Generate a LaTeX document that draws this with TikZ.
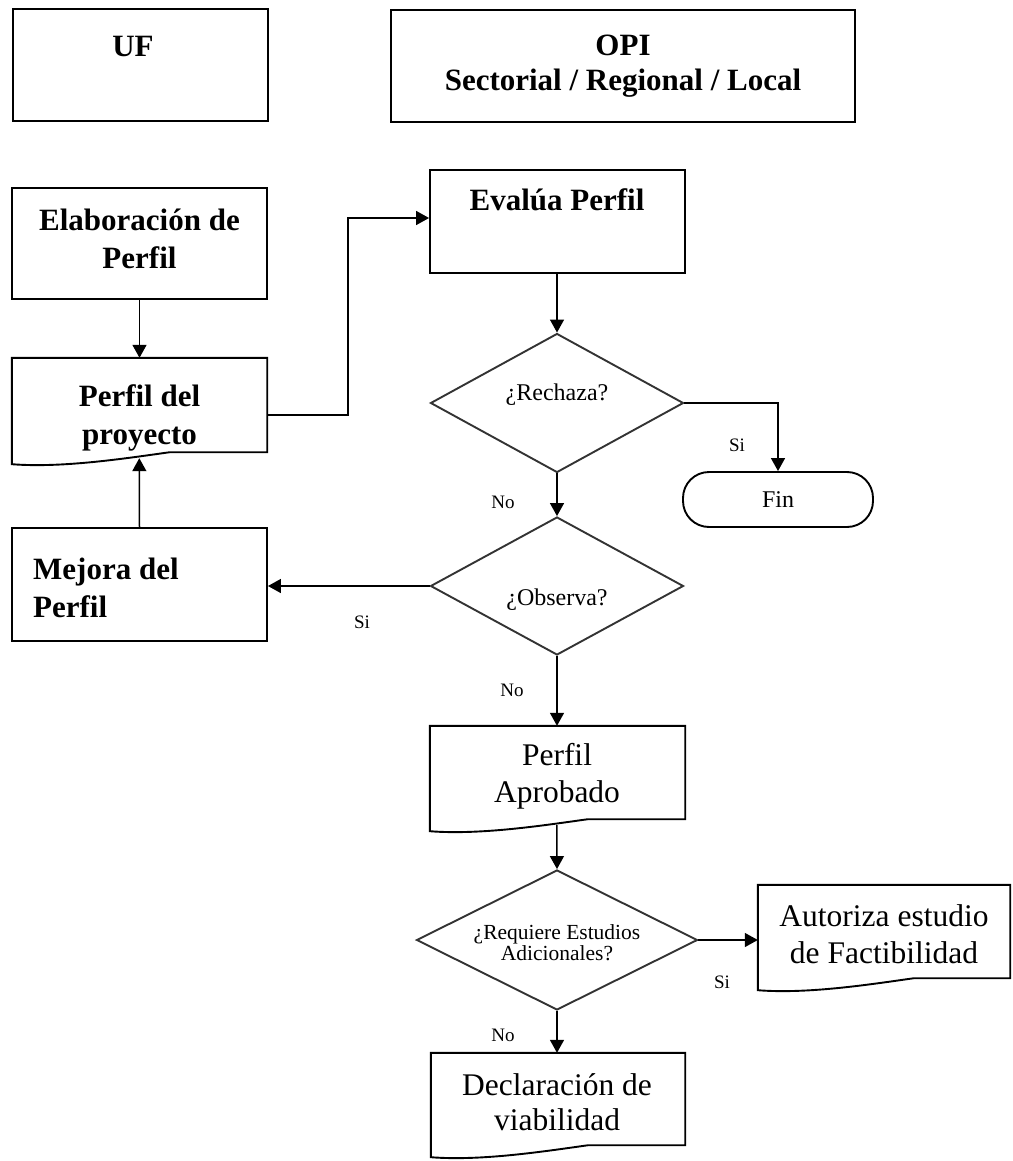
\documentclass[tikz,border=0pt]{standalone}
\usepackage{fontspec}
\setmainfont{Liberation Serif}
\usetikzlibrary{arrows.meta,shapes.geometric,calc}

% outline of a flowchart "document" shape: #1 = helper node, #2 = its width
\newcommand\drawdoc[2]{%
  \draw[boxline] (#1.south west) -- (#1.north west) -- (#1.north east)
    -- ($(#1.south east)+(0,-12)$) -- ($(#1.south west)+(0.62*#2,-12)$)
    .. controls ($(#1.south west)+(0.45*#2,-6)$) and ($(#1.south west)+(0.2*#2,4)$)
    .. (#1.south west) -- cycle;}

\begin{document}
\begin{tikzpicture}[x=1pt,y=-1pt,
  boxline/.style={line width=1.9pt,line join=miter},
  box/.style={draw,boxline,inner sep=0pt},
  docarea/.style={inner sep=0pt},
  decision/.style={draw=black!80,diamond,line width=1.9pt,inner sep=0pt},
  conn/.style={line width=1.5pt,-{Triangle[length=13pt,width=14pt]}},
  btxt/.style={font=\fontsize{31}{38}\selectfont\bfseries,align=center,inner sep=0pt},
  rtxt/.style={font=\fontsize{31.5}{37}\selectfont,align=center,inner sep=0pt},
  qtxt/.style={font=\fontsize{24}{26}\selectfont,align=center,inner sep=0pt},
  stxt/.style={font=\fontsize{21.5}{21}\selectfont,align=center,inner sep=0pt},
  lbl/.style={font=\fontsize{19}{21}\selectfont,inner sep=0pt},
  htxt/.style={font=\fontsize{31}{33}\selectfont\bfseries,inner sep=0pt}
]
\useasboundingbox (0,0) rectangle (1012,1161);

% column headers
\node[box,minimum width=255pt,minimum height=112pt] (uf) at (140.5,65) {};
\node[htxt] (uftxt) at (133,46) {UF};
\node[box,minimum width=464pt,minimum height=112pt] (opi) at (623,66) {};
\node[htxt] (opitxt) at (623,45) {OPI};
\node[htxt] (opisub) at (623,83) {Sectorial / Regional / Local};

% UF column
\node[box,minimum width=255pt,minimum height=111pt] (elab) at (139.5,243.5) {};
\node[btxt] at (139.5,239) {Elaboración de\\Perfil};

\node[docarea,minimum width=255pt,minimum height=106pt] (perfil) at (139.5,411) {};
\drawdoc{perfil}{255}
\node[btxt] at (139.5,417.5) {Perfil del\\proyecto};
\coordinate (pbot) at ($(perfil.south west)+(127.5,-6)$);

\node[box,minimum width=255pt,minimum height=113pt] (mejora) at (139.5,584.5) {};
\node[btxt,align=left,anchor=west] at (33,587.5) {Mejora del\\Perfil};

% OPI column
\node[box,minimum width=255pt,minimum height=103pt] (evalua) at (557.5,221.5) {};
\node[btxt] at (557,200) {Evalúa Perfil};

\node[decision,minimum width=253pt,minimum height=139pt] (rech) at (557,403) {};
\node[qtxt] at (557,395) {¿Rechaza?};

\node[box,rounded corners=26pt,minimum width=190pt,minimum height=55pt,
      font=\fontsize{24}{26}\selectfont] (fin) at (778,499.5) {Fin};

\node[decision,minimum width=253pt,minimum height=138pt] (obs) at (557,586) {};
\node[qtxt] at (557,600) {¿Observa?};

\node[docarea,minimum width=255pt,minimum height=105pt] (aprob) at (557.5,778.5) {};
\drawdoc{aprob}{255}
\node[rtxt] at (557,776.5) {Perfil\\Aprobado};
\coordinate (abot) at ($(aprob.south west)+(127,-6)$);

\node[decision,minimum width=281pt,minimum height=140pt] (req) at (557,940) {};
\node[stxt] at (557,942.5) {¿Requiere Estudios\\Adicionales?};

\node[docarea,minimum width=252pt,minimum height=105pt] (autor) at (884,937.5) {};
\drawdoc{autor}{252}
\node[rtxt] at (884,934) {Autoriza estudio\\de Factibilidad};

\node[docarea,minimum width=254pt,minimum height=104pt] (decl) at (558,1105) {};
\drawdoc{decl}{254}
\node[rtxt,font=\fontsize{31.5}{35}\selectfont] at (557,1102.5) {Declaración de\\viabilidad};

% connectors
\coordinate (bend) at (348,218);
\draw[conn] (elab.south) -- (perfil.north);
\draw[conn] (mejora.north) -- (pbot);
\draw[conn] ($(perfil.east)+(0,4)$) -| (bend) -- (evalua.west |- bend);
\draw[conn] (evalua.south -| rech.north) -- (rech.north);
\draw[conn] (rech.east) -| (fin.north);
\draw[conn] (rech.south) -- (obs.north);
\draw[conn] (obs.west) -- (obs.west -| mejora.east);
\draw[conn] (obs.south) -- (aprob.north -| obs.south);
\draw[conn] (abot) -- (req.north);
\draw[conn] (req.east) -- (req.east -| autor.west);
\draw[conn] (req.south) -- (decl.north -| req.south);

% branch labels
\node[lbl] at (737,445) {Si};
\node[lbl] at (503,502) {No};
\node[lbl] at (362,622) {Si};
\node[lbl] at (512,690) {No};
\node[lbl] at (722,982) {Si};
\node[lbl] at (503,1035) {No};
\end{tikzpicture}
\end{document}
